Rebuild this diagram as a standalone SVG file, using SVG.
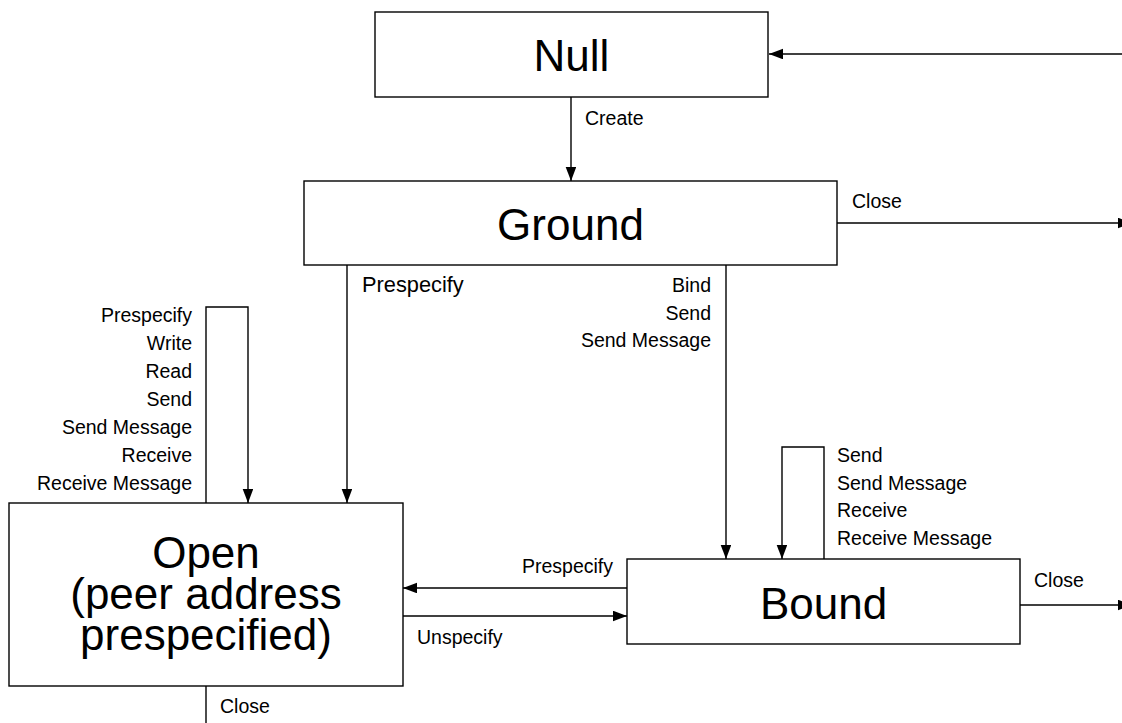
<svg xmlns="http://www.w3.org/2000/svg" width="1122" height="723" viewBox="0 0 1122 723">
<style>
.box{fill:#fff;stroke:#000;stroke-width:1.4}
.big{font-family:"Liberation Sans",Arial,sans-serif;font-size:44px;fill:#000;text-anchor:middle}
.lbl{font-family:"Liberation Sans",Arial,sans-serif;font-size:19.5px;fill:#000}
.r{text-anchor:end}
.edge{fill:none;stroke:#000;stroke-width:1.4}
</style>
<defs>
<marker id="ah" markerUnits="userSpaceOnUse" markerWidth="15" markerHeight="11" refX="14" refY="5.3" orient="auto">
<path d="M0,0 L14,5.3 L0,10.6 z" fill="#000"/>
</marker>
</defs>
<rect width="1122" height="723" fill="#fff"/>
<g id="connectors">
<g id="e-create"><path class="edge" d="M571,97 V181" marker-end="url(#ah)"/><text class="lbl" x="585" y="125">Create</text></g>
<g id="e-ground-close"><path class="edge" d="M837,223 H1132" marker-end="url(#ah)"/><text class="lbl" x="852" y="208">Close</text></g>
<g id="e-return-null"><path class="edge" d="M1122,54 H769" marker-end="url(#ah)"/></g>
<g id="e-ground-open"><path class="edge" d="M347,265 V503" marker-end="url(#ah)"/><text class="lbl" x="362" y="292" style="font-size:21.8px">Prespecify</text></g>
<g id="e-ground-bound"><path class="edge" d="M726,265 V559" marker-end="url(#ah)"/>
<text class="lbl r" x="711" y="292">Bind</text>
<text class="lbl r" x="711" y="320">Send</text>
<text class="lbl r" x="711" y="347">Send Message</text></g>
<g id="e-open-self"><path class="edge" d="M206,503 V307 H248 V503" marker-end="url(#ah)"/>
<text class="lbl r" x="192" y="321.5">Prespecify</text>
<text class="lbl r" x="192" y="349.5">Write</text>
<text class="lbl r" x="192" y="377.5">Read</text>
<text class="lbl r" x="192" y="405.5">Send</text>
<text class="lbl r" x="192" y="433.5">Send Message</text>
<text class="lbl r" x="192" y="461.5">Receive</text>
<text class="lbl r" x="192" y="489.5">Receive Message</text></g>
<g id="e-bound-self"><path class="edge" d="M824,559 V447 H782 V559" marker-end="url(#ah)"/>
<text class="lbl" x="837" y="462">Send</text>
<text class="lbl" x="837" y="490">Send Message</text>
<text class="lbl" x="837" y="517">Receive</text>
<text class="lbl" x="837" y="545">Receive Message</text></g>
<g id="e-bound-open"><path class="edge" d="M627,588 H403" marker-end="url(#ah)"/><text class="lbl r" x="613" y="573">Prespecify</text></g>
<g id="e-open-bound"><path class="edge" d="M403,616 H627" marker-end="url(#ah)"/><text class="lbl" x="417" y="644">Unspecify</text></g>
<g id="e-bound-close"><path class="edge" d="M1020,605 H1132" marker-end="url(#ah)"/><text class="lbl" x="1034" y="587">Close</text></g>
<g id="e-open-close"><path class="edge" d="M206,686 V723"/><text class="lbl" x="220" y="713">Close</text></g>
</g>
<g id="null"><rect class="box" x="375" y="12" width="393" height="85"/><text class="big" x="571.5" y="71">Null</text></g>
<g id="ground"><rect class="box" x="304" y="181" width="533" height="84"/><text class="big" x="570.5" y="240">Ground</text></g>
<g id="open"><rect class="box" x="9" y="503" width="394" height="183"/>
<text class="big" x="206" y="568">Open</text>
<text class="big" x="206" y="609">(peer address</text>
<text class="big" x="206" y="650">prespecified)</text></g>
<g id="bound"><rect class="box" x="627" y="559" width="393" height="85"/><text class="big" x="823.5" y="619">Bound</text></g>
</svg>
